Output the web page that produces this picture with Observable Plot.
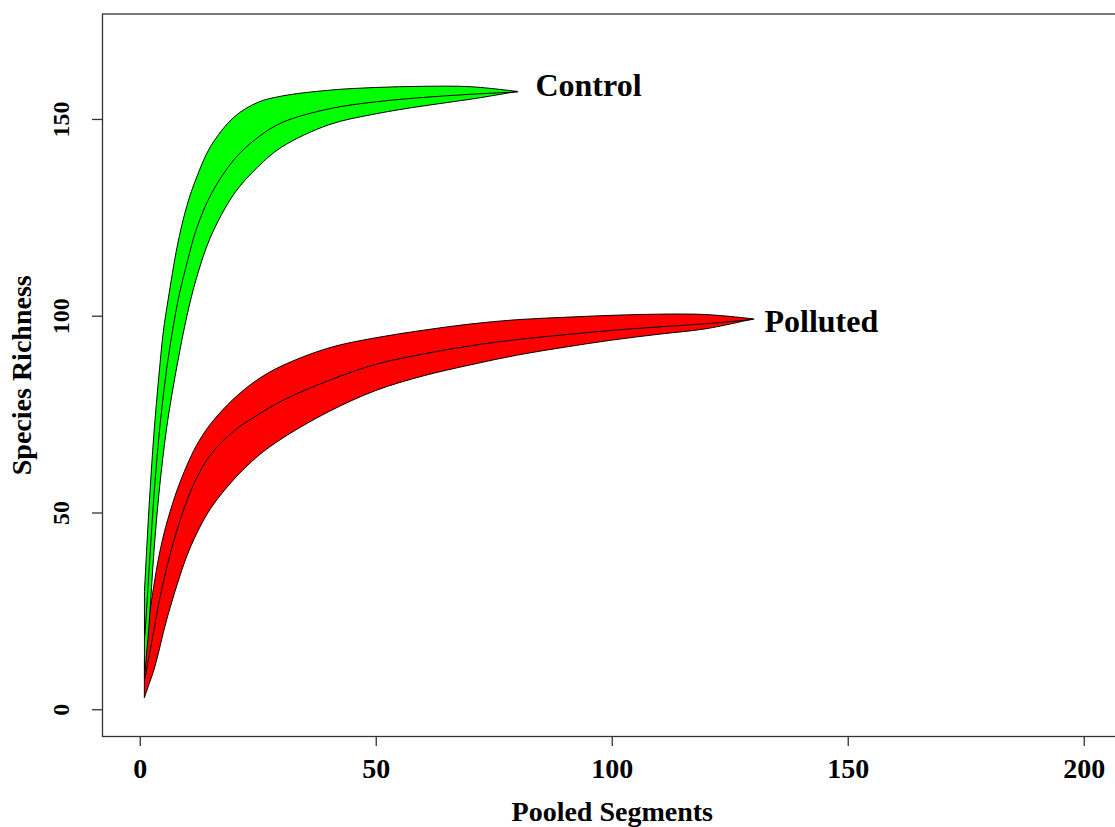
<!DOCTYPE html>
<html>
<head>
<meta charset="utf-8">
<script src="https://cdn.jsdelivr.net/npm/d3@7"></script>
<script src="https://cdn.jsdelivr.net/npm/@observablehq/plot@0.6"></script>
<style>
html, body { margin: 0; padding: 0; background: white; overflow: hidden; }
</style>
</head>
<body>
<div id="chart"></div>
<script>
// ---- data ----
const controlX     = [1, 2, 3, 4, 5, 6, 8, 10, 12, 15, 20, 25, 30, 40, 50, 60, 70, 80];
const controlLower = [8, 22, 40, 54, 65, 74, 88, 100, 109.5, 120, 131, 137.8, 142.8, 148.5, 151.3, 153.3, 155, 157];
const controlMean  = [19, 38, 56, 70, 81, 90, 104, 114, 122.5, 131, 140, 145.5, 149.2, 152.7, 154.5, 155.6, 156.4, 157];
const controlUpper = [30, 52, 70, 84, 96, 104, 118, 128, 135, 143, 150.5, 154.2, 155.8, 157.3, 158, 158.3, 158.2, 157];

const pollutedX     = [1, 2, 3, 4, 5, 6, 8, 10, 12, 15, 20, 25, 30, 40, 50, 60, 70, 80, 90, 100, 110, 120, 130];
const pollutedLower = [3, 6.5, 10, 14.5, 19.5, 24, 32, 39, 44.5, 51, 58.5, 64.3, 68.7, 75.6, 81, 84.7, 87.5, 90, 92, 93.8, 95.3, 96.7, 99.2];
const pollutedMean  = [8, 14.5, 21, 27.5, 33, 38, 46.5, 53.5, 59, 65, 71, 75, 78.5, 83.7, 87.8, 90.4, 92.5, 94.1, 95.3, 96.4, 97.3, 98.1, 99.2];
const pollutedUpper = [13, 23.5, 31.5, 38.5, 44, 48.5, 56, 62, 67, 72.5, 79, 83.8, 87.2, 91.8, 94.4, 96.3, 97.9, 99, 99.6, 100.1, 100.4, 100.3, 99.2];

const xTicks = [0, 50, 100, 150, 200];
const yTicks = [0, 50, 100, 150];
const xLabel = "Pooled Segments";
const yLabel = "Species Richness";
const seriesNames = ["Control", "Polluted"];

// ---- tables built from the arrays ----
const control = controlX.map((x, i) => ({x, lo: controlLower[i], mean: controlMean[i], hi: controlUpper[i]}));
const polluted = pollutedX.map((x, i) => ({x, lo: pollutedLower[i], mean: pollutedMean[i], hi: pollutedUpper[i]}));

const font = "'Liberation Serif', 'Times New Roman', serif";
const curve = "catmull-rom";

const chart = Plot.plot({
  width: 1115,
  height: 827,
  marginLeft: 102,
  marginRight: -6.5,
  marginTop: 13.5,
  marginBottom: 91,
  x: {domain: [-8, 208], range: [102, 1121.5], axis: null},
  y: {domain: [-6.8, 176.8], range: [736, 13.5], axis: null},
  style: {fontFamily: font, background: "white", overflow: "hidden"},
  marks: [
    Plot.areaY(polluted, {x: "x", y1: "lo", y2: "hi", fill: "#ff0000", stroke: "black", strokeWidth: 1, curve}),
    Plot.line(polluted, {x: "x", y: "mean", stroke: "black", strokeWidth: 1, curve}),
    Plot.areaY(control, {x: "x", y1: "lo", y2: "hi", fill: "#00ff00", stroke: "black", strokeWidth: 1, curve}),
    Plot.line(control, {x: "x", y: "mean", stroke: "black", strokeWidth: 1, curve}),
    Plot.frame({stroke: "#333", strokeWidth: 1.3}),
    Plot.axisX({ticks: xTicks, tickSize: 10, tickFormat: () => "", label: null, stroke: "#333", strokeWidth: 1.3}),
    Plot.axisY({ticks: yTicks, tickSize: 10, tickFormat: () => "", label: null, stroke: "#333", strokeWidth: 1.3}),
    Plot.text(xTicks, {x: d => d, text: d => String(d), frameAnchor: "bottom", lineAnchor: "bottom", dy: 41,
      fontSize: 28, fontWeight: "bold", fill: "black"}),
    Plot.text(yTicks, {y: d => d, text: d => String(d), frameAnchor: "left", dx: -33.5, rotate: -90,
      textAnchor: "middle", lineAnchor: "bottom", fontSize: 24, fontWeight: "bold", fill: "black"}),
    Plot.text([xLabel], {text: d => d, frameAnchor: "bottom", lineAnchor: "bottom", dy: 84,
      fontSize: 28, fontWeight: "bold", fill: "black"}),
    Plot.text([yLabel], {text: d => d, frameAnchor: "left", dx: -72, rotate: -90, textAnchor: "middle",
      lineAnchor: "bottom", fontSize: 28, fontWeight: "bold", fill: "black"}),
    Plot.text([control[control.length - 1]], {x: "x", y: "mean", text: () => seriesNames[0], dx: 17.6, dy: 3.6,
      textAnchor: "start", lineAnchor: "bottom", fontSize: 32, fontWeight: "bold", fill: "black"}),
    Plot.text([polluted[polluted.length - 1]], {x: "x", y: "mean", text: () => seriesNames[1], dx: 10.6, dy: 12.8,
      textAnchor: "start", lineAnchor: "bottom", fontSize: 32, fontWeight: "bold", fill: "black"})
  ]
});
document.getElementById("chart").appendChild(chart);
</script>
</body>
</html>
